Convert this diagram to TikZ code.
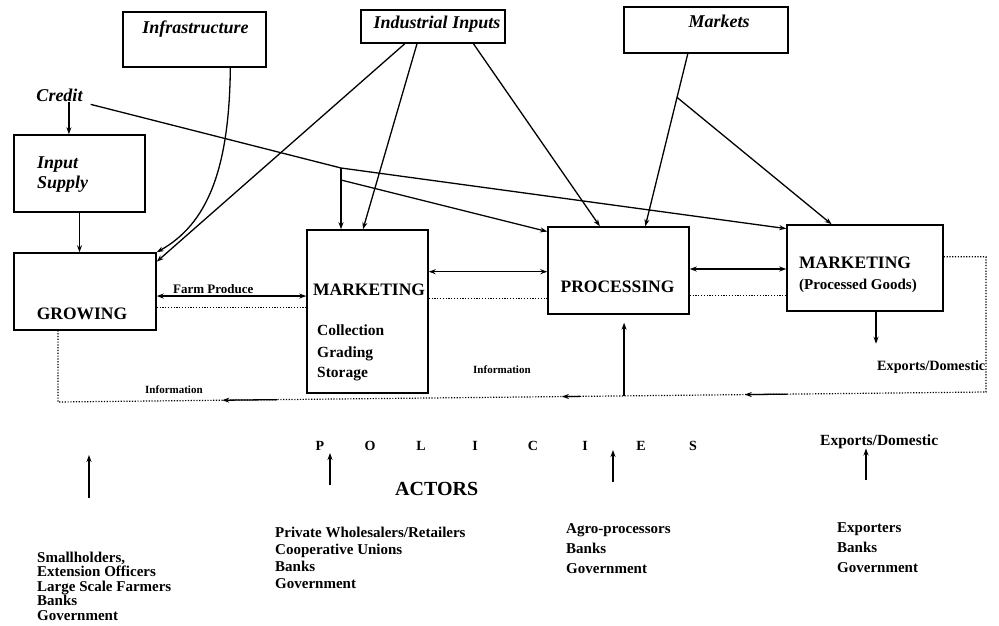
\documentclass[tikz,border=0pt]{standalone}
\usepackage{fontspec}
\setmainfont{Liberation Serif}
\usetikzlibrary{arrows.meta,calc}
\begin{document}
\begin{tikzpicture}[x=1pt,y=-1pt,
  box/.style={draw, line width=1.5pt, inner sep=0pt},
  arr/.style={line width=1.3pt, -{Stealth[length=7pt,width=5pt]}},
  dbl/.style={line width=1.3pt, {Stealth[length=7pt,width=5pt]}-{Stealth[length=7pt,width=5pt]}},
  dots/.style={line width=1.2pt, dash pattern=on 1.2pt off 1.6pt},
  ital/.style={font=\fontsize{18}{20}\selectfont\bfseries\itshape, inner sep=0pt},
  big/.style={font=\fontsize{17.5}{20}\selectfont\bfseries, inner sep=0pt},
  mid/.style={font=\fontsize{15.5}{18}\selectfont\bfseries, inner sep=0pt, anchor=base west},
  lst/.style={font=\fontsize{15}{15}\selectfont\bfseries, inner sep=0pt, anchor=base west},
  small/.style={font=\fontsize{13}{14}\selectfont\bfseries, inner sep=0pt, anchor=base west},
  tiny/.style={font=\fontsize{11}{12}\selectfont\bfseries, inner sep=0pt, anchor=base west},
  pol/.style={font=\fontsize{14}{16}\selectfont\bfseries, inner sep=0pt, anchor=base}]

\useasboundingbox (0,0) rectangle (999,626);

% ---- boxes ----
\node[box, minimum width=143pt, minimum height=55pt] (infra) at (194.5,39.5) {};
\node[box, minimum width=144pt, minimum height=33pt] (ind)   at (433,26.5) {};
\node[box, minimum width=164pt, minimum height=46pt] (mkts)  at (706,30) {};
\node[box, minimum width=131pt, minimum height=77pt] (supply) at (79.5,173.5) {};
\node[box, minimum width=142pt, minimum height=77pt] (grow)  at (85,291.5) {};
\node[box, minimum width=121pt, minimum height=163pt] (mkt)  at (367.5,311.5) {};
\node[box, minimum width=141pt, minimum height=87pt] (proc)  at (618.5,270.5) {};
\node[box, minimum width=156pt, minimum height=86pt] (mktpg) at (865,268) {};

% ---- box texts ----
\node[ital, anchor=base] (infraT) at (195.5,34) {Infrastructure};
\node[ital, anchor=base] (indT) at (437,29) {Industrial Inputs};
\node[ital, anchor=base] (mktsT) at (719,28) {Markets};
\node[ital, anchor=base] (credit) at (59.5,102) {Credit};
\node[ital, anchor=base west] (supT1) at (37,168) {Input};
\node[ital, anchor=base west] (supT2) at (37,188) {Supply};
\node[big, anchor=base] (growT) at (82,319) {GROWING};
\node[big, anchor=base west] (mktT) at (313,295) {MARKETING};
\node[mid] (mktT1) at (317,335) {Collection};
\node[mid] (mktT2) at (317,357) {Grading};
\node[mid] (mktT3) at (317,377) {Storage};
\node[big, anchor=base] (procT) at (617.5,292) {PROCESSING};
\node[big, anchor=base west] (pgT1) at (799,268) {MARKETING};
\node[font=\fontsize{15}{17}\selectfont\bfseries, inner sep=0pt, anchor=base west] (pgT2) at (799,289) {(Processed Goods)};

% ---- inputs from above ----
\coordinate (sa) at ($(supply.north west)!0.42!(supply.north east)$);
\draw[arr] (credit.south -| sa) -- (sa);
\draw[arr] (supply.south) -- (supply.south |- grow.north);
\draw[arr] ($(infra.south west)!0.748!(infra.south east)$) .. controls +(-1,103) and +(50,-28) .. (grow.north east);
\draw[arr] ($(ind.south west)!0.306!(ind.south east)$) -- ($(grow.north east)!0.12!(grow.south east)$);
\draw[arr] ($(ind.south west)!0.39!(ind.south east)$) -- ($(mkt.north west)!0.463!(mkt.north east)$);
\draw[arr] ($(ind.south west)!0.778!(ind.south east)$) -- ($(proc.north west)!0.369!(proc.north east)$);
\coordinate (m1) at ($(mkts.south west)!0.39!(mkts.south east)$);
\coordinate (m2) at ($(proc.north west)!0.688!(proc.north east)$);
\draw[arr] (m1) -- (m2);
\draw[arr] ($(m1)!0.253!(m2)$) -- ($(mktpg.north west)!0.288!(mktpg.north east)$);

% credit line and its branches
\coordinate (j1) at (341,168);
\coordinate (j2) at (341,180);
\draw[arr] ($(credit.south east)+(8,2)$) -- (j1) -- ($(mktpg.north west)!0.05!(mktpg.south west)$);
\draw[arr] (j1) -- (j1 |- mkt.north);
\draw[arr] (j2) -- ($(proc.north west)!0.06!(proc.south west)$);

% ---- flows between stages ----
\coordinate (a1) at ($(grow.north east)!0.558!(grow.south east)$);
\draw[dbl] (a1) -- (a1 -| mkt.west);
\coordinate (a2) at ($(mkt.north east)!0.258!(mkt.south east)$);
\draw[dbl] (a2) -- (a2 -| proc.west);
\coordinate (a3) at ($(proc.north east)!0.483!(proc.south east)$);
\draw[dbl] (a3) -- (a3 -| mktpg.west);
\node[small] (farm) at (173,293) {Farm Produce};

\coordinate (d1) at ($(grow.north east)!0.70!(grow.south east)$);
\draw[dots] (d1) -- (d1 -| mkt.west);
\coordinate (d2) at ($(mkt.north east)!0.423!(mkt.south east)$);
\draw[dots] (d2) -- (d2 -| proc.west);
\coordinate (d3) at ($(proc.north east)!0.78!(proc.south east)$);
\draw[dots] (d3) -- (d3 -| mktpg.west);

% ---- information feedback loop ----
\coordinate (f0) at ($(mktpg.north east)!0.372!(mktpg.south east)$);
\coordinate (fBR) at (986,392);
\coordinate (fBL) at (58,402);
\draw[dots] (f0) -- (f0 -| fBR) -- (fBR) -- (fBL) -- (fBL |- grow.south);
\draw[arr] ($(fBL)!0.236!(fBR)$) -- ($(fBL)!0.177!(fBR)$);
\draw[arr] ($(fBL)!0.5625!(fBR)$) -- ($(fBL)!0.543!(fBR)$);
\draw[arr] ($(fBL)!0.786!(fBR)$) -- ($(fBL)!0.740!(fBR)$);
\coordinate (pu) at ($(fBL)!0.61!(fBR)$);
\draw[arr] (pu) -- ($(pu |- proc.south)+(0,8)$);
\node[tiny] (info1) at (145,393) {Information};
\node[tiny] (info2) at (473,373) {Information};

\coordinate (md) at ($(mktpg.south west)!0.57!(mktpg.south east)$);
\draw[arr] (md) -- ++(0,32);
\node[font=\fontsize{14.2}{16}\selectfont\bfseries, inner sep=0pt, anchor=base west] (exp1) at (877,370) {Exports/Domestic};

% ---- policies and actors ----
\foreach \l/\x [count=\i] in {P/320,O/370,L/421,I/475,C/533,I/585,E/641,S/693}
  \node[pol] (pol\i) at (\x,450) {\l};
\node[font=\fontsize{20}{22}\selectfont\bfseries, inner sep=0pt, anchor=base west] (actors) at (395,495) {ACTORS};
\node[font=\fontsize{15.5}{17}\selectfont\bfseries, inner sep=0pt, anchor=base west] (exp2) at (820,445) {Exports/Domestic};

\coordinate (u1) at (89,498);
\coordinate (u2) at (330,485);
\coordinate (u3) at (613,482);
\coordinate (u4) at (866,480);
\draw[arr] (u1) -- ++(0,-43);
\draw[arr] (u2) -- ++(0,-32);
\draw[arr] (u3) -- ++(0,-32);
\draw[arr] (u4) -- (u4 |- exp2.south);

\foreach \t [count=\i] in {{Smallholders,}, Extension Officers, Large Scale Farmers, Banks, Government}
  \node[lst] (la\i) at (37,{562+(\i-1)*14.5}) {\t};
\foreach \t [count=\i] in {Private Wholesalers/Retailers, Cooperative Unions, Banks, Government}
  \node[lst] (lb\i) at (275,{537+(\i-1)*17}) {\t};
\foreach \t [count=\i] in {Agro-processors, Banks, Government}
  \node[lst] (lc\i) at (566,{533+(\i-1)*20}) {\t};
\foreach \t [count=\i] in {Exporters, Banks, Government}
  \node[lst] (ld\i) at (837,{532+(\i-1)*20}) {\t};

\end{tikzpicture}
\end{document}
